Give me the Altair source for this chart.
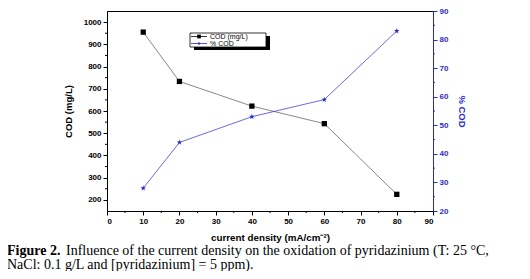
import altair as alt
import pandas as pd

# ---- data ----
density = [10, 20, 40, 60, 80]
cod_mg = [955, 733, 622, 543, 225]
cod_pct = [28, 44, 53, 59, 83]

x_ticks = [0, 10, 20, 30, 40, 50, 60, 70, 80, 90]
x_minor = [5, 15, 25, 35, 45, 55, 65, 75, 85]
left_ticks = [200, 300, 400, 500, 600, 700, 800, 900, 1000]
left_minor = [250, 350, 450, 550, 650, 750, 850, 950]
right_ticks = [20, 30, 40, 50, 60, 70, 80, 90]
right_minor = [25, 35, 45, 55, 65, 75, 85]

legend_labels = ["COD (mg/L)", "% COD"]
caption_bold = "Figure 2."
caption_1 = "Influence of the current density on the oxidation of pyridazinium (T: 25 °C,"
caption_2 = "NaCl: 0.1 g/L and [pyridazinium] = 5 ppm)."

W, H = 326, 200
TOP = 3
BLUE = "#2b2bcc"
SANS = "Liberation Sans"
SERIF = "Liberation Serif"
STAR = ("M0,-1L0.235,-0.324L0.951,-0.309L0.38,0.124L0.588,0.809L0,0.4"
        "L-0.588,0.809L-0.38,0.124L-0.951,-0.309L-0.235,-0.324Z")

df = pd.DataFrame({"density": density, "cod": cod_mg, "pct": cod_pct})
xscale = alt.Scale(domain=[0, 90], nice=False, zero=False)
lscale = alt.Scale(domain=[150, 1050], nice=False, zero=False)
rscale = alt.Scale(domain=[20, 90], nice=False, zero=False)


def xaxis():
    return alt.Axis(values=x_ticks, title="current density (mA/cm⁻²)", grid=False,
                    labelFont=SANS, labelFontSize=8, labelFontWeight="bold", labelColor="black",
                    titleFont=SANS, titleFontSize=9.8, titleFontWeight="bold", titleColor="black",
                    tickSize=4, tickColor="black", domainColor="black", labelPadding=2,
                    titlePadding=7, format="d")


laxis = alt.Axis(values=left_ticks, title="COD (mg/L)", grid=False, orient="left", format="d",
                 labelFont=SANS, labelFontSize=8, labelFontWeight="bold", labelColor="black",
                 titleFont=SANS, titleFontSize=9.5, titleFontWeight="bold", titleColor="black",
                 tickSize=4, tickColor="black", domainColor="black", labelPadding=2,
                 titlePadding=10)
raxis = alt.Axis(values=right_ticks, title="% COD", grid=False, orient="right", format="d",
                 labelFont=SANS, labelFontSize=8, labelFontWeight="bold", labelColor=BLUE,
                 titleFont=SANS, titleFontSize=9.5, titleFontWeight="bold", titleColor=BLUE,
                 tickSize=4, tickColor=BLUE, domainColor=BLUE, labelPadding=2,
                 titlePadding=9)

base = alt.Chart(df)

cod_line = base.mark_line(color="#555555", strokeWidth=0.7).encode(
    x=alt.X("density:Q", scale=xscale, axis=xaxis()),
    y=alt.Y("cod:Q", scale=lscale, axis=laxis),
)
cod_pts = base.mark_point(shape="square", filled=True, color="black", size=28, opacity=1).encode(
    x=alt.X("density:Q", scale=xscale, axis=xaxis()),
    y=alt.Y("cod:Q", scale=lscale, axis=None),
)
pct_line = base.mark_line(color=BLUE, strokeWidth=0.7).encode(
    x=alt.X("density:Q", scale=xscale, axis=xaxis()),
    y=alt.Y("pct:Q", scale=rscale, axis=raxis),
)
pct_pts = base.mark_point(shape=STAR, filled=True, color=BLUE, size=34, opacity=1).encode(
    x=alt.X("density:Q", scale=xscale, axis=xaxis()),
    y=alt.Y("pct:Q", scale=rscale, axis=None),
)
xminor = alt.Chart(pd.DataFrame({"density": x_minor})).mark_rule(color="black", strokeWidth=1).encode(
    x=alt.X("density:Q", scale=xscale, axis=xaxis()), y=alt.value(H), y2=alt.value(H + 2))
lminor = alt.Chart(pd.DataFrame({"v": left_minor})).mark_rule(color="black", strokeWidth=1).encode(
    y=alt.Y("v:Q", scale=lscale, axis=None), x=alt.value(0), x2=alt.value(-2))
rminor = alt.Chart(pd.DataFrame({"v": right_minor})).mark_rule(color=BLUE, strokeWidth=1).encode(
    y=alt.Y("v:Q", scale=rscale, axis=None), x=alt.value(W), x2=alt.value(W + 2))

one = alt.Chart(pd.DataFrame({"a": [0]}))


def py(page_y):
    # page pixel row -> plot-relative pixel row
    return page_y - 8 - TOP


# legend box
shadow = one.mark_rect(color="black").encode(
    x=alt.value(87), x2=alt.value(163), y=alt.value(py(36)), y2=alt.value(py(50)))
box = one.mark_rect(fill="white", stroke="black", strokeWidth=0.8).encode(
    x=alt.value(83), x2=alt.value(159), y=alt.value(py(33)), y2=alt.value(py(47)))
leg1_line = one.mark_rule(color="black", strokeWidth=0.8).encode(
    x=alt.value(84), x2=alt.value(100), y=alt.value(py(36.5)))
leg1_pt = one.mark_point(shape="square", filled=True, color="black", size=14, opacity=1).encode(
    x=alt.value(92), y=alt.value(py(36.5)))
leg2_line = one.mark_rule(color=BLUE, strokeWidth=0.8).encode(
    x=alt.value(84), x2=alt.value(100), y=alt.value(py(43.5)))
leg2_pt = one.mark_point(shape=STAR, filled=True, color=BLUE, size=16, opacity=1).encode(
    x=alt.value(92), y=alt.value(py(43.5)))
leg1_txt = one.mark_text(text=legend_labels[0], font=SANS, fontSize=7, align="left",
                         baseline="middle", color="black").encode(x=alt.value(103), y=alt.value(py(36.5)))
leg2_txt = one.mark_text(text=legend_labels[1], font=SANS, fontSize=7, align="left",
                         baseline="middle", color="black").encode(x=alt.value(103), y=alt.value(py(43.5)))

# caption
cap_b = one.mark_text(text=caption_bold, font=SERIF, fontSize=14, fontWeight="bold",
                      align="left", baseline="alphabetic", color="black").encode(
    x=alt.value(-100), y=alt.value(py(255)))
cap_1 = one.mark_text(text=caption_1, font=SERIF, fontSize=14, align="left",
                      baseline="alphabetic", color="black").encode(
    x=alt.value(-41), y=alt.value(py(255)))
cap_2 = one.mark_text(text=caption_2, font=SERIF, fontSize=14, align="left",
                      baseline="alphabetic", color="black").encode(
    x=alt.value(-100), y=alt.value(py(268.5)))

chart = alt.layer(
    cod_line, cod_pts, pct_line, pct_pts, xminor, lminor, rminor,
    shadow, box, leg1_line, leg1_pt, leg2_line, leg2_pt, leg1_txt, leg2_txt,
    cap_b, cap_1, cap_2
).resolve_scale(y="independent").properties(
    width=W, height=H,
    autosize=alt.AutoSizeParams(type="none"),
    padding={"left": 99, "top": TOP, "right": 89, "bottom": 263 - TOP - H},
    background="white",
).configure_view(stroke="black", strokeWidth=1)

chart.save("out.html", embed_options={"renderer": "svg", "actions": False})
